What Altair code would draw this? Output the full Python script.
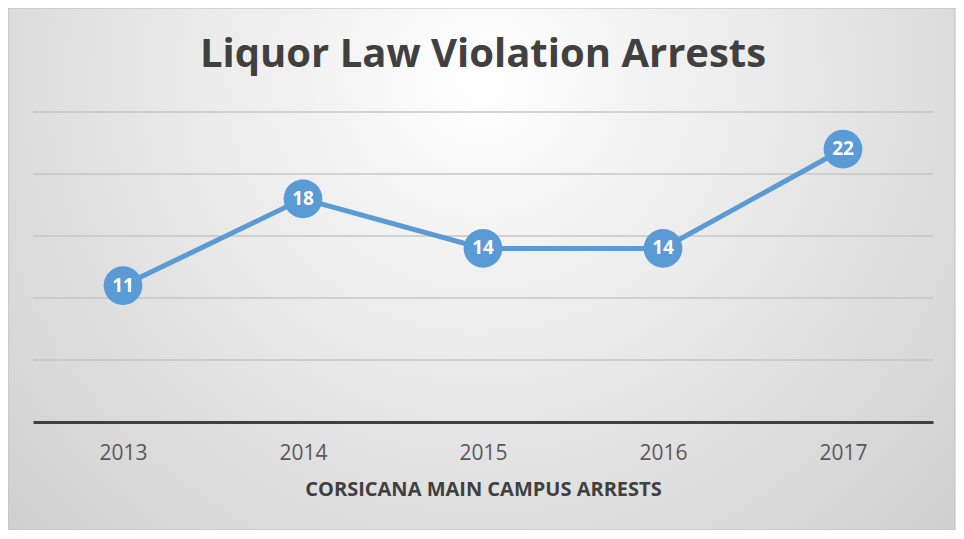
import altair as alt
import pandas as pd

title_text = "Liquor Law Violation Arrests"
years = ["2013", "2014", "2015", "2016", "2017"]
arrests = [11, 18, 14, 14, 22]
grid_values = [5, 10, 15, 20, 25]

df = pd.DataFrame({"year": years, "arrests": arrests})
grid_df = pd.DataFrame({"v": grid_values})
one_df = pd.DataFrame({"k": [0]})

FONT = "Open Sans"
BLUE = "#5b9bd5"

yscale = alt.Scale(domain=[0, 25], nice=False, zero=True)
xaxis = alt.Axis(
    title="CORSICANA MAIN CAMPUS ARRESTS",
    labelAngle=0, ticks=False, domainColor="#404040", domainWidth=3,
    labelColor="#595959", labelFont=FONT, labelFontSize=21, labelPadding=20,
    titleColor="#404040", titleFont=FONT, titleFontSize=20, titleFontWeight="bold",
    titlePadding=16, zindex=1, grid=False,
)

bg = alt.Chart(one_df).mark_rect(
    fill=alt.RadialGradient(
        gradient="radial", x1=0.5, y1=0.3, x2=0.5, y2=0.3, r1=0, r2=0.75,
        stops=[alt.GradientStop(offset=0, color="#ffffff"),
               alt.GradientStop(offset=1, color="#cbcbcb")],
    ),
    stroke="#c0c0c0", strokeWidth=1,
).encode(
    x=alt.value(-25), x2=alt.value(922), y=alt.value(-104), y2=alt.value(418)
)

title = alt.Chart(one_df).mark_text(
    text=title_text, font=FONT, fontWeight="bold", fontSize=40,
    color="#404040", align="center", baseline="alphabetic",
).encode(x=alt.value(450), y=alt.value(-45))

grid = alt.Chart(grid_df).mark_rule(color="#c6c6c6", strokeWidth=1.5).encode(
    y=alt.Y("v:Q", scale=yscale, axis=None)
)

base = alt.Chart(df).encode(
    x=alt.X("year:O", axis=xaxis),
    y=alt.Y("arrests:Q", scale=yscale, axis=None),
)
line = base.mark_line(color=BLUE, strokeWidth=5)
pts = base.mark_circle(color=BLUE, size=1500, opacity=1)
txt = base.mark_text(color="white", font=FONT, fontWeight="bold", fontSize=19).encode(
    text="arrests:Q"
)

chart = alt.layer(bg, title, grid, line, pts, txt).properties(
    width=900, height=310,
    padding={"left": 25, "top": 104, "right": 23, "bottom": 108},
    autosize="none",
).configure_view(stroke=None).configure(background="white")

chart.save("out.html", embed_options={"renderer": "svg", "actions": False})
